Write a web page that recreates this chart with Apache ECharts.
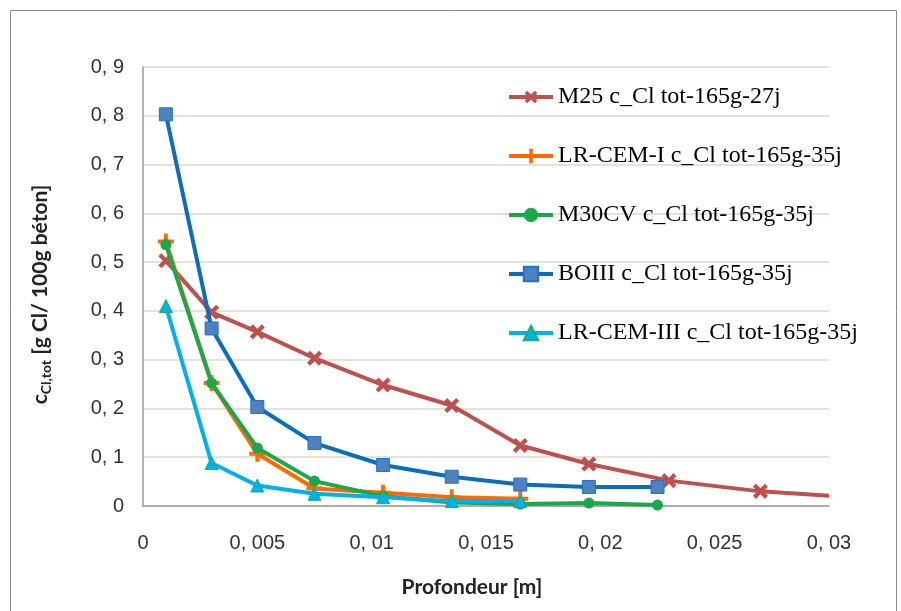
<!DOCTYPE html>
<html>
<head>
<meta charset="utf-8">
<script src="https://cdn.jsdelivr.net/npm/echarts@6/dist/echarts.min.js"></script>
<style>html,body{margin:0;padding:0;background:#fff}#c{width:901px;height:611px}</style>
</head>
<body>
<div id="c"></div>
<script>
// ---- data ----
const seriesNames = [
  'M25 c_Cl tot-165g-27j',
  'LR-CEM-I c_Cl tot-165g-35j',
  'M30CV c_Cl tot-165g-35j',
  'BOIII c_Cl tot-165g-35j',
  'LR-CEM-III c_Cl tot-165g-35j'
];
const m25X = [0.001, 0.003, 0.005, 0.0075, 0.0105, 0.0135, 0.0165, 0.0195, 0.023, 0.027, 0.03];
const m25Y = [0.503, 0.397, 0.357, 0.303, 0.248, 0.206, 0.124, 0.086, 0.052, 0.030, 0.021];
const lrcem1X = [0.001, 0.003, 0.005, 0.0075, 0.0105, 0.0135, 0.0165];
const lrcem1Y = [0.542, 0.252, 0.107, 0.036, 0.027, 0.018, 0.015];
const m30cvX = [0.001, 0.003, 0.005, 0.0075, 0.0105, 0.0135, 0.0165, 0.0195, 0.0225];
const m30cvY = [0.536, 0.252, 0.119, 0.051, 0.020, 0.007, 0.004, 0.006, 0.002];
const boiiiX = [0.001, 0.003, 0.005, 0.0075, 0.0105, 0.0135, 0.0165, 0.0195, 0.0225];
const boiiiY = [0.803, 0.364, 0.203, 0.129, 0.084, 0.060, 0.044, 0.039, 0.039];
const lrcem3X = [0.001, 0.003, 0.005, 0.0075, 0.0105, 0.0135, 0.0165];
const lrcem3Y = [0.410, 0.088, 0.042, 0.025, 0.018, 0.010, 0.010];
const xTickLabels = ['0', '0, 005', '0, 01', '0, 015', '0, 02', '0, 025', '0, 03'];
const yTickLabels = ['0', '0, 1', '0, 2', '0, 3', '0, 4', '0, 5', '0, 6', '0, 7', '0, 8', '0, 9'];

// ---- build ----
const pair = (xs, ys) => xs.map((x, i) => [x, ys[i]]);
const plusPath = 'path://M-1.5,-6 L1.5,-6 L1.5,-1.5 L6,-1.5 L6,1.5 L1.5,1.5 L1.5,6 L-1.5,6 L-1.5,1.5 L-6,1.5 L-6,-1.5 L-1.5,-1.5Z';

const m25Data = pair(m25X, m25Y).map((p, i, a) => i === a.length - 1 ? {value: p, symbol: 'none'} : p);

const chart = echarts.init(document.getElementById('c'));
const tickFont = {fontFamily: 'Liberation Sans', fontSize: 20, color: '#333'};
chart.setOption({
  animation: false,
  backgroundColor: '#fff',
  graphic: [{
    type: 'rect', shape: {x: 10.5, y: 10.5, width: 886, height: 700},
    style: {fill: 'none', stroke: '#8c8c8c', lineWidth: 1}, z: -1
  }],
  grid: {left: 143, right: 72, top: 67, bottom: 105},
  legend: {
    orient: 'vertical', left: 502, top: 80,
    itemWidth: 44, itemHeight: 18, itemGap: 35,
    lineStyle: {width: 4},
    textStyle: {fontFamily: 'Liberation Serif', fontSize: 24, color: '#000', lineHeight: 20},
    data: seriesNames
  },
  xAxis: {
    type: 'value', min: 0, max: 0.03, interval: 0.005,
    name: 'Profondeur [m]', nameLocation: 'middle', nameGap: 71,
    nameTextStyle: {fontFamily: 'Lato', fontWeight: 'bold', fontSize: 21, color: '#222', padding: [0, 28, 0, 0]},
    axisLine: {lineStyle: {color: '#9a9a9a', width: 1.5}},
    axisTick: {show: false},
    splitLine: {show: false},
    axisLabel: Object.assign({margin: 27, formatter: v => xTickLabels[Math.round(v / 0.005)]}, tickFont)
  },
  yAxis: {
    type: 'value', min: 0, max: 0.9, interval: 0.1,
    name: '{a|c}{b|Cl,tot}{a| [g Cl/ 100g béton]}', nameLocation: 'middle', nameGap: 90, nameRotate: 90,
    nameTextStyle: {
      padding: [0, 16, 0, 0],
      rich: {
        a: {fontFamily: 'Lato', fontWeight: 'bold', fontSize: 21, color: '#222'},
        b: {fontFamily: 'Lato', fontWeight: 'bold', fontSize: 14, color: '#222', padding: [12, 0, 0, 0]}
      }
    },
    axisLine: {show: true, lineStyle: {color: '#9a9a9a', width: 1.5}},
    axisTick: {show: false},
    splitLine: {lineStyle: {color: '#ddd8c8', width: 1.5}},
    axisLabel: Object.assign({margin: 19, formatter: v => yTickLabels[Math.round(v / 0.1)]}, tickFont)
  },
  series: [
    {
      name: seriesNames[0], type: 'line', data: m25Data,
      lineStyle: {color: '#C0504D', width: 4}, itemStyle: {color: '#C0504D'},
      symbol: plusPath, symbolRotate: 45, symbolSize: 17, z: 2
    },
    {
      name: seriesNames[1], type: 'line', data: pair(lrcem1X, lrcem1Y),
      lineStyle: {color: '#FF6A00', width: 4}, itemStyle: {color: '#FF6A00'},
      symbol: plusPath, symbolSize: 16, z: 3
    },
    {
      name: seriesNames[2], type: 'line', data: pair(m30cvX, m30cvY),
      lineStyle: {color: '#1AA84A', width: 4}, itemStyle: {color: '#1AA84A'},
      symbol: 'circle', symbolSize: 11, z: 4
    },
    {
      name: seriesNames[3], type: 'line', data: pair(boiiiX, boiiiY),
      lineStyle: {color: '#0A6EBD', width: 4}, itemStyle: {color: '#4F81BD', borderColor: '#1B75C8', borderWidth: 1},
      symbol: 'rect', symbolSize: 13, z: 5
    },
    {
      name: seriesNames[4], type: 'line', data: pair(lrcem3X, lrcem3Y),
      lineStyle: {color: '#00B0F0', width: 4}, itemStyle: {color: '#00B0F0', borderColor: '#20B060', borderWidth: 1},
      symbol: 'triangle', symbolSize: 13, z: 6
    }
  ]
});
</script>
</body>
</html>
